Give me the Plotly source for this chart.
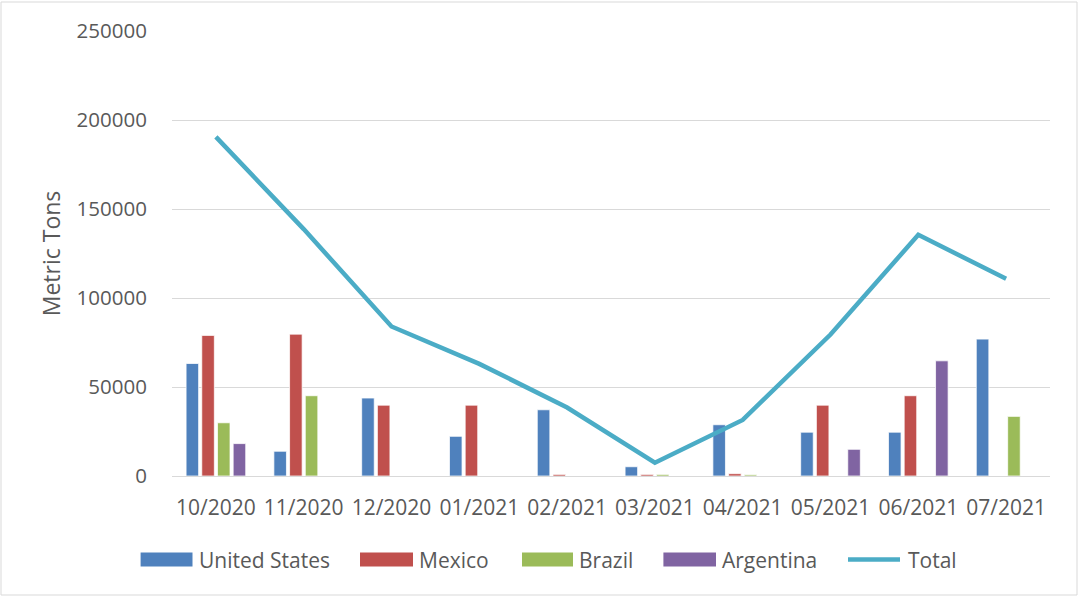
import plotly.graph_objects as go

months = ["10/2020", "11/2020", "12/2020", "01/2021", "02/2021",
          "03/2021", "04/2021", "05/2021", "06/2021", "07/2021"]
united_states = [63200, 13900, 43800, 22300, 37200, 5200, 28800, 24600, 24600, 76900]
mexico = [79000, 79700, 39800, 39800, 900, 900, 1300, 39800, 45100, None]
brazil = [29900, 45100, None, None, None, 900, 700, None, None, 33500]
argentina = [18200, None, None, None, None, None, None, 15000, 64700, None]
total = [190500, 138700, 84000, 63000, 38500, 7500, 31500, 79500, 135500, 110800]

y_ticks = [0, 50000, 100000, 150000, 200000, 250000]

series = [
    ("United States", united_states, "#4F81BD"),
    ("Mexico", mexico, "#C0504D"),
    ("Brazil", brazil, "#9BBB59"),
    ("Argentina", argentina, "#8064A2"),
]
line_color = "#4BACC6"

FONT = "Open Sans"
TXT = "#595959"
W, H = 1080, 597
L, R, T, B = 172, 30, 31, 121
PW, PH = W - L - R, H - T - B

def px(x):
    return (x - L) / PW

def py(y):
    return (H - B - y) / PH

fig = go.Figure()
for name, vals, col in series:
    fig.add_trace(go.Bar(x=months, y=vals, name=name, showlegend=False,
                         marker=dict(color=col, line=dict(color="rgba(255,255,255,0.75)", width=1))))
fig.add_trace(go.Scatter(x=months, y=total, name="Total", mode="lines", showlegend=False,
                         line=dict(color=line_color, width=4.5)))

shapes = [dict(type="rect", xref="paper", yref="paper",
               x0=px(1), x1=px(1077), y0=py(595), y1=py(2),
               line=dict(color="#D9D9D9", width=1), fillcolor="rgba(0,0,0,0)", layer="below")]
annotations = []

# custom legend (Excel-style wide swatches)
legend_items = [
    ("United States", series[0][2], 140.6, 192.5, "bar"),
    ("Mexico", series[1][2], 360, 413, "bar"),
    ("Brazil", series[2][2], 522, 573, "bar"),
    ("Argentina", series[3][2], 663.4, 716, "bar"),
    ("Total", line_color, 846, 902, "line"),
]
ly = 559.5
for name, col, x0, x1, kind in legend_items:
    if kind == "bar":
        shapes.append(dict(type="rect", xref="paper", yref="paper",
                           x0=px(x0), x1=px(x1), y0=py(ly + 7), y1=py(ly - 7),
                           fillcolor=col, line=dict(width=0)))
    else:
        shapes.append(dict(type="line", xref="paper", yref="paper",
                           x0=px(x0 + 2), x1=px(x1 - 2), y0=py(ly), y1=py(ly),
                           line=dict(color=col, width=4.5)))
    annotations.append(dict(text=name, xref="paper", yref="paper",
                            x=px(x1 + 4), y=py(ly), xanchor="left", yanchor="middle",
                            showarrow=False, font=dict(family=FONT, size=21, color=TXT)))

fig.update_layout(
    width=W, height=H,
    margin=dict(l=L, r=R, t=T, b=B),
    paper_bgcolor="white", plot_bgcolor="white",
    barmode="group", bargap=0.285, bargroupgap=0.2,
    font=dict(family=FONT, size=21, color=TXT),
    shapes=shapes, annotations=annotations,
    showlegend=False,
)
fig.update_xaxes(type="category", showgrid=False, showline=False,
                 ticks="outside", ticklen=13, tickcolor="rgba(0,0,0,0)",
                 tickfont=dict(family=FONT, size=21, color=TXT))
fig.update_yaxes(range=[0, 250000], tickvals=y_ticks, ticktext=[str(v) for v in y_ticks],
                 showgrid=True, gridcolor="#D9D9D9", gridwidth=1.3,
                 zeroline=True, zerolinecolor="#D9D9D9", zerolinewidth=1.3,
                 showline=False, ticks="outside", ticklen=20, tickcolor="rgba(0,0,0,0)",
                 tickfont=dict(family=FONT, size=20.5, color=TXT),
                 title=dict(text="Metric Tons", standoff=9,
                            font=dict(family=FONT, size=23, color=TXT)))

fig.write_html("out.html")
